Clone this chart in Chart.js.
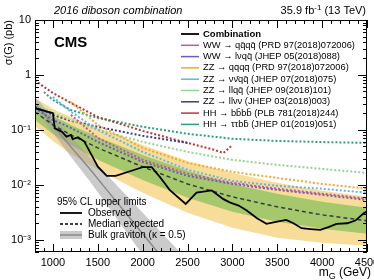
<!DOCTYPE html>
<html>
<head>
<meta charset="utf-8">
<script src="https://cdn.jsdelivr.net/npm/chart.js@4/dist/chart.umd.min.js"></script>
<style>
  html, body { margin: 0; padding: 0; background: #fff; }
  #wrap { width: 374px; height: 280px; position: relative; }
</style>
</head>
<body>
<div id="wrap"><canvas id="limits"></canvas></div>
<script>
// --- data (sigma in pb, masses in GeV) ---
const massCombo = [800, 1000, 1200, 1500, 2000, 2500, 3000, 3500, 4000, 4500];
const expMedian = [0.213, 0.123, 0.0811, 0.0471, 0.0213, 0.0104, 0.00605, 0.00398, 0.00285, 0.00222];
const expPlus1  = [0.297, 0.18, 0.123, 0.0746, 0.0351, 0.018, 0.0104, 0.00686, 0.00491, 0.00382];
const expMinus1 = [0.152, 0.0846, 0.0534, 0.0285, 0.0123, 0.0058, 0.00323, 0.00213, 0.00159, 0.00129];
const expPlus2  = [0.382, 0.241, 0.172, 0.109, 0.0534, 0.0273, 0.0165, 0.0109, 0.00778, 0.00605];
const expMinus2 = [0.118, 0.0631, 0.0366, 0.0188, 0.00715, 0.0031, 0.00165, 0.00109, 0.000882, 0.000778];

const massObs = [800, 1000, 1020, 1100, 1150, 1200, 1220, 1280, 1350, 1400, 1500, 1600, 1700, 1850, 2000, 2100,
  2200, 2300, 2480, 2600, 2770, 2900, 2970, 3070, 3160, 3270, 3380, 3500, 3600, 3680, 3770, 3870, 3980,
  4070, 4160, 4280, 4370, 4460, 4500];
const obsLimit = [0.248, 0.201, 0.107, 0.093, 0.0755, 0.081, 0.068, 0.0736, 0.0612, 0.0433, 0.0215, 0.0146, 0.0146,
  0.0175, 0.021, 0.021, 0.0134, 0.0081, 0.0045, 0.0072, 0.0079, 0.0055, 0.0048, 0.0042, 0.0034, 0.0025,
  0.00195, 0.00215, 0.0023, 0.002, 0.00163, 0.00157, 0.00152, 0.0017, 0.00195, 0.002, 0.00224, 0.003, 0.0033];

const massTheory = [800, 1000, 1200, 1400, 1600, 1800, 2000, 2200, 2400];
const xsecTheory = [0.31, 0.123, 0.0491, 0.0204, 0.00811, 0.00323, 0.00129, 0.000512, 0.000204];
const xsecTheoryUp = [0.398, 0.172, 0.0746, 0.0337, 0.0152, 0.00686, 0.0031, 0.0014, 0.000631];
const xsecTheoryDown = [0.241, 0.0882, 0.0323, 0.0123, 0.00433, 0.00152, 0.000534, 0.000188, 0.0000658];

// expected limits of the single analyses
const massWWqqqq = [1200, 1500, 2000, 2500, 3000, 3500, 4000, 4500];
const limWWqqqq  = [0.188, 0.0715, 0.0285, 0.0159, 0.0109, 0.0085, 0.0069, 0.0056];
const massWWlvqq = [800, 1000, 1200, 1500, 2000, 2500, 3000, 3500, 4000, 4500];
const limWWlvqq  = [0.25, 0.152, 0.109, 0.0605, 0.0262, 0.0146, 0.0104, 0.0081, 0.0066, 0.0053];
const massZZqqqq = [1200, 1500, 2000, 2500, 3000, 3500, 4000, 4500];
const limZZqqqq  = [0.323, 0.123, 0.047, 0.0251, 0.0172, 0.0134, 0.0104, 0.0085];
const massZZvvqq = [1000, 1200, 1500, 2000, 2500, 3000, 3500, 4000, 4500];
const limZZvvqq  = [0.398, 0.213, 0.1, 0.0398, 0.0188, 0.0118, 0.0096, 0.0085, 0.0072];
const massZZllqq = [800, 1000, 1200, 1500, 2000, 2500, 3000, 3500, 4000, 4500];
const limZZllqq  = [0.285, 0.204, 0.152, 0.1, 0.0605, 0.0398, 0.0285, 0.0231, 0.0195, 0.0165];
const massZZllvv = [800, 1000, 1200, 1500, 2000, 2500];
const limZZllvv  = [0.273, 0.188, 0.146, 0.114, 0.078, 0.058];
const massHHbbbb = [800, 900, 1000, 1200, 1500, 2000, 2500, 2800, 2900, 3000];
const limHHbbbb  = [0.81, 0.605, 0.47, 0.31, 0.172, 0.096, 0.058, 0.0433, 0.038, 0.053];
const massHHttbb = [900, 1000, 1200, 1500, 2000, 2500, 3000, 3500, 4000, 4500];
const limHHttbb  = [0.49, 0.35, 0.23, 0.165, 0.114, 0.085, 0.069, 0.063, 0.06, 0.058];

const xTickValues = [1000, 1500, 2000, 2500, 3000, 3500, 4000, 4500];
const yTickValues = [0.001, 0.01, 0.1, 1, 10];
const yTickLabels = ['10\u207B\u00B3', '10\u207B\u00B2', '10\u207B\u00B9', '1', '10'];

const FONT = "'Liberation Sans', Arial, Helvetica, sans-serif";
const X_MIN = 800, X_MAX = 4500, Y_MIN = 6e-4, Y_MAX = 10;

const channels = [
    { label: 'WW \u2192 qq\u0304qq\u0304 (PRD 97(2018)072006)', color: '#c2579a', mass: massWWqqqq, lim: limWWqqqq },
    { label: 'WW \u2192 l\u03BDqq\u0304 (JHEP 05(2018)088)', color: '#6a5fb8', mass: massWWlvqq, lim: limWWlvqq },
    { label: 'ZZ \u2192 qq\u0304qq\u0304 (PRD 97(2018)072006)', color: '#eea83a', mass: massZZqqqq, lim: limZZqqqq },
    { label: 'ZZ \u2192 \u03BD\u03BD\u0304qq\u0304 (JHEP 07(2018)075)', color: '#62b6e8', mass: massZZvvqq, lim: limZZvvqq },
    { label: 'ZZ \u2192 llqq\u0304 (JHEP 09(2018)101)', color: '#95d095', mass: massZZllqq, lim: limZZllqq },
    { label: 'ZZ \u2192 ll\u03BD\u03BD (JHEP 03(2018)003)', color: '#3d3c8e', mass: massZZllvv, lim: limZZllvv },
    { label: 'HH \u2192 bb\u0304bb\u0304 (PLB 781(2018)244)', color: '#b53a3a', mass: massHHbbbb, lim: limHHbbbb },
    { label: 'HH \u2192 \u03C4\u03C4bb\u0304 (JHEP 01(2019)051)', color: '#2f9e7a', mass: massHHttbb, lim: limHHttbb },
];

const pts = (xs, ys) => xs.map((x, i) => ({ x, y: ys[i] }));

// band datasets: index 0..5, the fill targets refer to these indices
const datasets = [
    { label: 'exp+2', data: pts(massCombo, expPlus2), fill: { target: 1 }, backgroundColor: '#f8dd98', borderWidth: 0, order: 9 },
    { label: 'exp-2', data: pts(massCombo, expMinus2), fill: false, borderWidth: 0, order: 9 },
    { label: 'exp+1', data: pts(massCombo, expPlus1), fill: { target: 3 }, backgroundColor: '#a6c86c', borderWidth: 0, order: 8 },
    { label: 'exp-1', data: pts(massCombo, expMinus1), fill: false, borderWidth: 0, order: 8 },
    { label: 'th+', data: pts(massTheory, xsecTheoryUp), fill: { target: 5 }, backgroundColor: 'rgba(160,160,160,0.55)', borderWidth: 0, order: 7 },
    { label: 'th-', data: pts(massTheory, xsecTheoryDown), fill: false, borderWidth: 0, order: 7 },
    { label: 'theory', data: pts(massTheory, xsecTheory), borderColor: '#8a8a8a', borderWidth: 1.5, fill: false, order: 6 },
];
channels.forEach(ch => {
    datasets.push({ label: ch.label, data: pts(ch.mass, ch.lim), borderColor: ch.color, borderWidth: 2,
        borderDash: [2, 2], fill: false, order: 3 });
});
datasets.push({ label: 'Median expected', data: pts(massCombo, expMedian), borderColor: '#3a3a3a',
    borderWidth: 1.5, borderDash: [4, 3], fill: false, order: 1 });
datasets.push({ label: 'Observed', data: pts(massObs, obsLimit), borderColor: '#000', borderWidth: 1.8,
    fill: false, order: 0 });

// ROOT-like frame, inward ticks on all sides, axis titles and the two legends
const decorations = {
    id: 'decorations',
    afterDraw(chart) {
        const c = chart.ctx, a = chart.chartArea, xs = chart.scales.x, ys = chart.scales.y;
        c.save();
        c.strokeStyle = '#000';
        c.lineWidth = 1;
        c.strokeRect(a.left + 0.5, a.top + 0.5, a.right - a.left - 1, a.bottom - a.top - 1);

        c.beginPath();
        for (let m = 800; m <= X_MAX; m += 100) {
            const px = Math.round(xs.getPixelForValue(m)) + 0.5;
            const len = m % 500 === 0 ? 8 : 4;
            c.moveTo(px, a.bottom); c.lineTo(px, a.bottom - len);
            c.moveTo(px, a.top); c.lineTo(px, a.top + len);
        }
        for (let d = -4; d <= 1; d++) {
            for (let k = 1; k <= 9; k++) {
                const v = k * Math.pow(10, d);
                if (v < Y_MIN || v > Y_MAX * 1.0001) continue;
                const py = Math.round(ys.getPixelForValue(v)) + 0.5;
                const len = k === 1 ? 9 : 4;
                c.moveTo(a.left, py); c.lineTo(a.left + len, py);
                c.moveTo(a.right, py); c.lineTo(a.right - len, py);
            }
        }
        c.stroke();

        c.fillStyle = '#000';
        // axis titles
        c.font = `11px ${FONT}`;
        c.save();
        c.translate(12, a.top);
        c.rotate(-Math.PI / 2);
        c.textAlign = 'right';
        c.textBaseline = 'alphabetic';
        c.fillText('\u03C3(G) (pb)', 0, 0);
        c.restore();

        c.textAlign = 'right';
        c.font = `12px ${FONT}`;
        const unit = ' (GeV)';
        const unitW = c.measureText(unit).width;
        c.fillText(unit, 371, 276);
        c.font = `9px ${FONT}`;
        const subW = c.measureText('G').width;
        c.fillText('G', 371 - unitW, 279);
        c.font = `12px ${FONT}`;
        c.fillText('m', 371 - unitW - subW, 276);

        // header
        c.font = `italic 11px ${FONT}`;
        c.textAlign = 'left';
        c.fillText('2016 diboson combination', 54, 14);
        c.font = `11px ${FONT}`;
        c.textAlign = 'right';
        const tev = ' (13 TeV)';
        const tevW = c.measureText(tev).width;
        c.fillText(tev, 366, 14);
        c.font = `8px ${FONT}`;
        const supW = c.measureText('-1').width;
        c.fillText('-1', 366 - tevW, 10);
        c.font = `11px ${FONT}`;
        c.fillText('35.9 fb', 366 - tevW - supW, 14);

        c.textAlign = 'left';
        c.font = `bold 15px ${FONT}`;
        c.fillText('CMS', 54, 47);

        // legend of the analyses
        const legFont = `9.3px ${FONT}`;
        c.font = legFont;
        c.textBaseline = 'middle';
        const rowH = 11.3;
        let y = 34;
        c.lineWidth = 1.8;
        c.strokeStyle = '#000';
        c.beginPath(); c.moveTo(181, y); c.lineTo(199, y); c.stroke();
        c.font = `bold 9.5px ${FONT}`;
        c.fillText('Combination', 203, y);
        c.font = legFont;
        channels.forEach(ch => {
            y += rowH;
            c.strokeStyle = ch.color;
            c.lineWidth = 1.5;
            c.beginPath(); c.moveTo(181, y); c.lineTo(199, y); c.stroke();
            c.fillText(ch.label, 203, y);
        });

        // legend of the combined limits
        c.font = `10px ${FONT}`;
        c.fillText('95% CL upper limits', 57, 202);
        c.strokeStyle = '#000';
        c.lineWidth = 1.8;
        c.beginPath(); c.moveTo(60, 213); c.lineTo(82, 213); c.stroke();
        c.fillText('Observed', 88, 213);
        c.lineWidth = 1.5;
        c.setLineDash([3, 2]);
        c.beginPath(); c.moveTo(60, 224); c.lineTo(82, 224); c.stroke();
        c.setLineDash([]);
        c.fillText('Median expected', 88, 224);
        c.fillStyle = 'rgba(160,160,160,0.55)';
        c.fillRect(60, 231, 22, 8);
        c.strokeStyle = '#8a8a8a';
        c.beginPath(); c.moveTo(60, 235); c.lineTo(82, 235); c.stroke();
        c.fillStyle = '#000';
        c.fillText('Bulk graviton (\u03BA = 0.5)', 88, 235);
        c.restore();
    }
};

new Chart(document.getElementById('limits'), {
    type: 'line',
    data: { datasets },
    options: {
        responsive: true,
        maintainAspectRatio: false,
        animation: false,
        layout: { padding: { top: 20, right: 7, left: 0, bottom: 0 } },
        elements: { point: { radius: 0 }, line: { tension: 0 } },
        plugins: { legend: { display: false }, tooltip: { enabled: false } },
        scales: {
            x: {
                type: 'linear', min: X_MIN, max: X_MAX,
                grid: { display: false, drawTicks: false }, border: { display: false },
                ticks: { color: '#000', font: { family: FONT, size: 11 }, padding: 4, maxRotation: 0,
                    callback: v => String(v) },
                afterBuildTicks: s => { s.ticks = xTickValues.map(v => ({ value: v })); },
                afterFit: s => { s.height = 28; s.paddingLeft = 0; s.paddingRight = 0; }
            },
            y: {
                type: 'logarithmic', min: Y_MIN, max: Y_MAX,
                grid: { display: false, drawTicks: false }, border: { display: false },
                ticks: { color: '#000', font: { family: FONT, size: 11 }, padding: 4,
                    callback: v => { const i = yTickValues.findIndex(t => Math.abs(t - v) / t < 1e-6); return i >= 0 ? yTickLabels[i] : ''; } },
                afterBuildTicks: s => { s.ticks = yTickValues.map(v => ({ value: v })); },
                afterFit: s => { s.width = 35; s.paddingTop = 0; s.paddingBottom = 0; }
            }
        }
    },
    plugins: [decorations]
});
</script>
</body>
</html>
